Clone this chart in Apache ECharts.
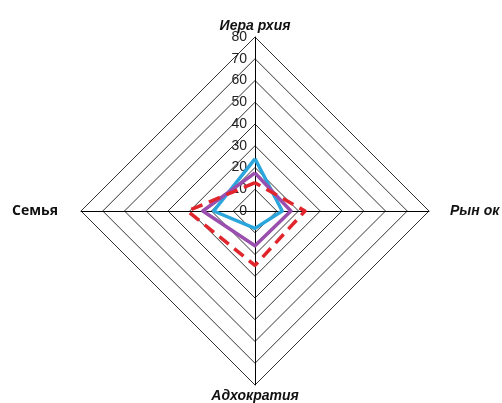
<!DOCTYPE html>
<html><head><meta charset="utf-8">
<script src="https://cdn.jsdelivr.net/npm/echarts@6/dist/echarts.min.js"></script>
<style>html,body{margin:0;padding:0;background:#fff}#c{width:502px;height:403px}</style>
</head><body><div id="c"></div>
<script>
// order: counter-clockwise from top (ECharts radar direction)
const indicators = ['Иера рхия', 'Семья', 'Адхократия', 'Рын ок'];
const maxValue = 80;
const tickLabels = [0, 10, 20, 30, 40, 50, 60, 70, 80];
const seriesBlue = [24, 19, 8, 12.5];
const seriesPurple = [17.5, 24, 16, 16.5];
const seriesRed = [13, 31, 25, 23];

const chart = echarts.init(document.getElementById('c'));
chart.setOption({
  animation: false,
  backgroundColor: '#fff',
  grid: {left: 255, top: 37, width: 1, height: 174},
  xAxis: {type: 'value', show: false},
  yAxis: {
    type: 'value', min: tickLabels[0], max: tickLabels[tickLabels.length-1], interval: 10,
    axisLine: {show: false}, axisTick: {show: false}, splitLine: {show: false},
    axisLabel: {color: '#222', fontFamily: 'Liberation Sans', fontSize: 14, margin: 8}
  },
  radar: {
    center: [255, 211],
    radius: 174,
    shape: 'polygon',
    splitNumber: 8,
    startAngle: 90,
    indicator: indicators.map(n => ({name: n, max: maxValue, min: 0})),
    axisName: {
      color: '#111',
      fontFamily: 'Liberation Sans',
      fontSize: 14,
      fontWeight: 'bold',
      fontStyle: 'italic',
      formatter: function (n) {
        if (n === 'Семья') return '{s|' + n + '}';
        if (n === 'Рын ок') return '{r|' + n + '}';
        return n;
      },
      rich: {
        s: {fontStyle: 'normal', fontWeight: 'bold', fontFamily: 'Open Sans', fontSize: 14, color: '#111', padding: [0, 19, 0, 0]},
        r: {fontStyle: 'italic', fontWeight: 'bold', fontFamily: 'Liberation Sans', fontSize: 14, color: '#111', padding: [0, 0, 0, 17]}
      }
    },
    nameGap: 4,
    axisLine: {lineStyle: {color: '#000', width: 1}},
    axisTick: {show: false},
    splitLine: {lineStyle: {color: '#333', width: 1}},
    splitArea: {show: false}
  },
  series: [{
    type: 'radar',
    symbol: 'none',
    data: [
      {value: seriesBlue, lineStyle: {color: '#2aa6dc', width: 3.5}},
      {value: seriesPurple, lineStyle: {color: '#9a4fae', width: 3.5}},
      {value: seriesRed, lineStyle: {color: '#e0262c', width: 3.5, type: [12, 7]}}
    ]
  }]
});
</script></body></html>
